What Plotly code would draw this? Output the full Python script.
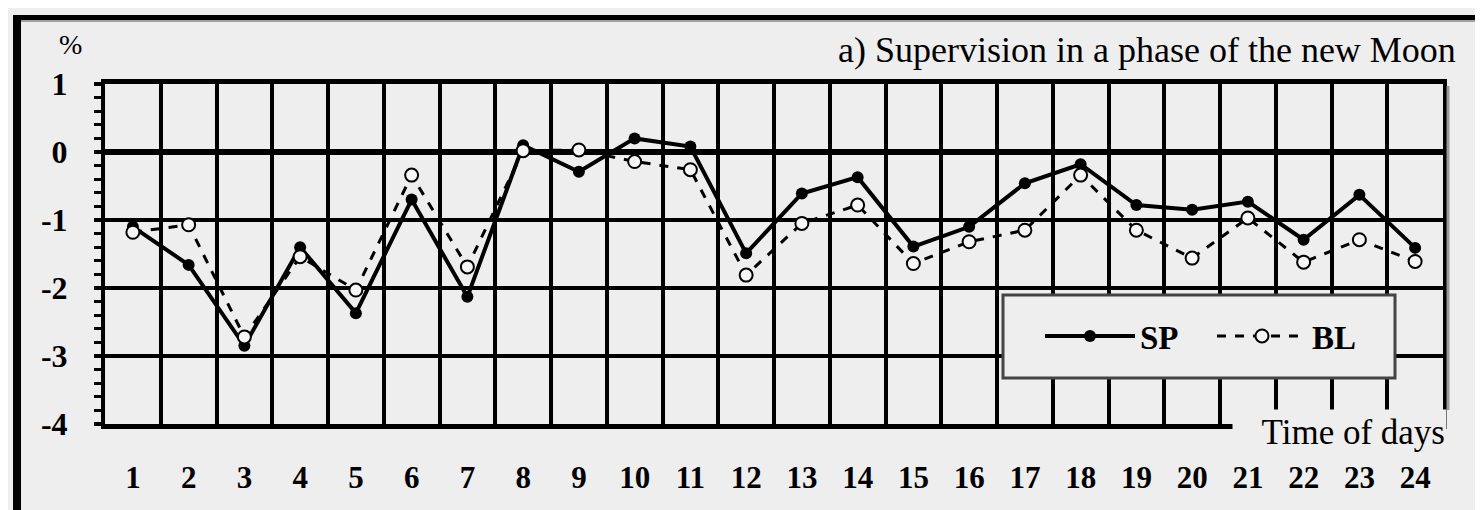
import plotly.graph_objects as go

days = list(range(1, 25))
sp = [-1.1, -1.66, -2.85, -1.4, -2.37, -0.7, -2.13, 0.1, -0.29, 0.2, 0.08, -1.49,
      -0.61, -0.37, -1.39, -1.1, -0.46, -0.18, -0.78, -0.85, -0.73, -1.29, -0.63, -1.41]
bl = [-1.18, -1.07, -2.72, -1.54, -2.03, -0.34, -1.69, 0.02, 0.03, -0.14, -0.26, -1.81,
      -1.05, -0.78, -1.64, -1.32, -1.15, -0.34, -1.15, -1.56, -0.97, -1.62, -1.29, -1.61]
yticks = [1, 0, -1, -2, -3, -4]

# the page body has an 8px margin, the figure fills the rest of the window
OFF = 8
W, H = 1483 - OFF, 510 - OFF
L, T = 97, 76
PW, PH = 1338, 340
R, B = W - L - PW, H - T - PH
SERIF = "Liberation Serif"


def px(x):  # window pixel -> paper
    return (x - OFF - L) / PW


def py(y):
    return (OFF + T + PH - y) / PH


fig = go.Figure()
fig.add_trace(go.Scatter(x=days, y=sp, name="SP", mode="lines+markers",
                         line=dict(color="black", width=4),
                         marker=dict(symbol="circle", size=12, color="black")))
fig.add_trace(go.Scatter(x=days, y=bl, name="BL", mode="lines+markers",
                         line=dict(color="black", width=3, dash="dash"),
                         marker=dict(symbol="circle", size=13, color="#f6f6f6",
                                     line=dict(color="black", width=2))))

shapes = [
    # outer frame
    dict(type="rect", xref="paper", yref="paper", x0=px(13), x1=px(21), y0=py(15), y1=py(530),
         fillcolor="black", line_width=0),
    dict(type="rect", xref="paper", yref="paper", x0=px(13), x1=px(1500), y0=py(15), y1=py(20),
         fillcolor="black", line_width=0),
    dict(type="rect", xref="paper", yref="paper", x0=px(21), x1=px(1500), y0=py(20), y1=py(22),
         fillcolor="#a0a0a0", line_width=0),
    dict(type="line", xref="paper", yref="paper", x0=px(1448), x1=px(1448), y0=py(86), y1=py(410),
         line=dict(color="#9a9a9a", width=3)),
    # legend frame
    dict(type="rect", xref="paper", yref="paper", x0=px(1003), x1=px(1395), y0=py(295), y1=py(378),
         fillcolor="#eeeeee", line=dict(color="#444444", width=3), layer="above"),
]

fig.update_layout(
    width=W, height=H,
    margin=dict(l=L, r=R, t=T, b=B, autoexpand=False),
    paper_bgcolor="#eeeeee", plot_bgcolor="#eeeeee",
    font=dict(family=SERIF, color="black"),
    shapes=shapes,
    showlegend=True,
    legend=dict(orientation="h", x=px(1040), y=py(336), xanchor="left", yanchor="middle",
                bgcolor="rgba(0,0,0,0)", borderwidth=0,
                font=dict(family=SERIF, size=33, weight="bold"),
                itemwidth=90, entrywidth=67, tracegroupgap=0),
    annotations=[
        dict(text="a) Supervision in a phase of the new Moon", xref="paper", yref="paper",
             x=px(1458), y=py(50), xanchor="right", yanchor="middle", showarrow=False,
             font=dict(family=SERIF, size=36)),
        dict(text="%", xref="paper", yref="paper", x=px(70), y=py(45), xanchor="center",
             yanchor="middle", showarrow=False, font=dict(family=SERIF, size=28)),
        dict(text="Time of days", xref="paper", yref="paper", x=px(1232), y=py(432),
             xanchor="left", yanchor="middle", showarrow=False, align="right",
             width=211, height=42, bgcolor="#eeeeee",
             font=dict(family=SERIF, size=35)),
    ],
)

fig.update_xaxes(range=[0.5, 24.5], tickvals=days, ticktext=[str(d) for d in days],
                 showgrid=False, zeroline=False, ticks="",
                 showline=True, linecolor="black", linewidth=5, mirror=True,
                 tickfont=dict(family=SERIF, size=31, weight="bold"),
                 ticklabelstandoff=22,
                 minor=dict(tick0=0.5, dtick=1, showgrid=True, gridcolor="black", gridwidth=4))
fig.update_yaxes(range=[-4, 1], tickvals=yticks, ticktext=[str(v) for v in yticks],
                 showgrid=True, gridcolor="black", gridwidth=4,
                 zeroline=True, zerolinecolor="black", zerolinewidth=6,
                 showline=True, linecolor="black", linewidth=4, mirror=True,
                 ticks="outside", ticklen=7, tickwidth=4, tickcolor="black",
                 tickfont=dict(family=SERIF, size=32, weight="bold"),
                 ticklabelstandoff=20,
                 minor=dict(dtick=0.2, ticks="outside", ticklen=7, tickwidth=3,
                            tickcolor="black", showgrid=False))

fig.write_html("out.html")
